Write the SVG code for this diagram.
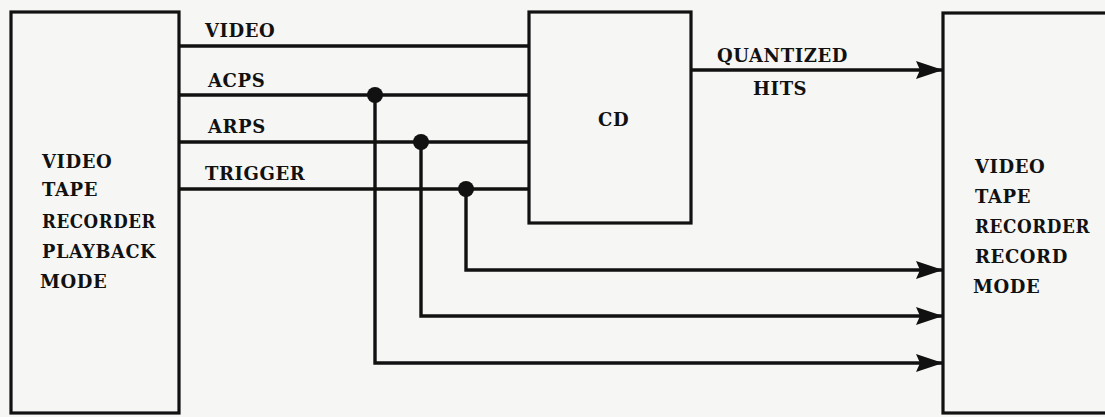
<svg xmlns="http://www.w3.org/2000/svg" width="1105" height="417" viewBox="0 0 1105 417">
<style>
.box{fill:none;stroke:#111;stroke-width:3.2}
.w{fill:none;stroke:#111;stroke-width:3.4;stroke-linejoin:miter}
.t{font-family:"DejaVu Serif","Liberation Serif",serif;font-weight:bold;font-size:18px;letter-spacing:0.6px;fill:#111}
.dot{fill:#111}
</style>
<defs>
<marker id="ah" markerUnits="userSpaceOnUse" markerWidth="28" markerHeight="20" refX="27" refY="9" orient="auto">
<path d="M0,0 L27,9 L0,18 L4,9 Z" fill="#111"/>
</marker>
</defs>
<rect x="0" y="0" width="1105" height="417" fill="#f6f6f4"/>
<g id="vtr-playback">
<rect class="box" x="11" y="12" width="168" height="401"/>
<text class="t" x="42" y="168">VIDEO</text>
<text class="t" x="42" y="196">TAPE</text>
<text class="t" x="42" y="228" textLength="114" lengthAdjust="spacingAndGlyphs">RECORDER</text>
<text class="t" x="42" y="258" textLength="114" lengthAdjust="spacingAndGlyphs">PLAYBACK</text>
<text class="t" x="40" y="288">MODE</text>
</g>
<g id="cd">
<rect class="box" x="529" y="12" width="162" height="211"/>
<text class="t" x="598" y="126">CD</text>
</g>
<g id="vtr-record">
<rect class="box" x="943" y="13" width="200" height="400"/>
<text class="t" x="975" y="173">VIDEO</text>
<text class="t" x="975" y="203">TAPE</text>
<text class="t" x="975" y="233" textLength="115" lengthAdjust="spacingAndGlyphs">RECORDER</text>
<text class="t" x="975" y="263">RECORD</text>
<text class="t" x="973" y="293">MODE</text>
</g>
<g id="connectors">
<path class="w" d="M179,46 H529"/>
<path class="w" d="M179,95 H529"/>
<path class="w" d="M179,142 H529"/>
<path class="w" d="M179,189 H529"/>
<path class="w" d="M691,70 H943" marker-end="url(#ah)"/>
<path class="w" d="M375,95 V363 H943" marker-end="url(#ah)"/>
<path class="w" d="M421,142 V316 H943" marker-end="url(#ah)"/>
<path class="w" d="M466,189 V270 H943" marker-end="url(#ah)"/>
<circle class="dot" cx="375" cy="95" r="8"/>
<circle class="dot" cx="421" cy="142" r="8"/>
<circle class="dot" cx="466" cy="189" r="8"/>
<text class="t" x="205" y="37">VIDEO</text>
<text class="t" x="208" y="87">ACPS</text>
<text class="t" x="208" y="133">ARPS</text>
<text class="t" x="205" y="180">TRIGGER</text>
<text class="t" x="717" y="62">QUANTIZED</text>
<text class="t" x="753" y="95">HITS</text>
</g>
</svg>
